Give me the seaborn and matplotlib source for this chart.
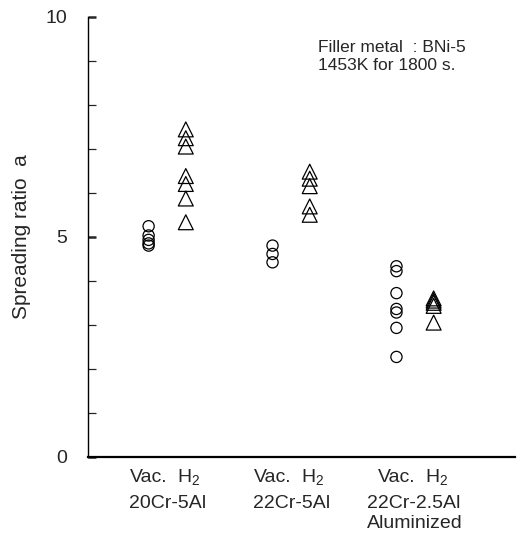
import pandas as pd
import matplotlib.pyplot as plt
import numpy as np
import seaborn as sns
from matplotlib.ticker import MultipleLocator

# wartosci
alloys = ["20Cr-5Al", "22Cr-5Al", "22Cr-2.5Al\nAluminized"]
atmospheres = ["Vac.", "H2"]
vac_20 = [5.24, 5.03, 4.93, 4.85, 4.80]
h2_20 = [7.44, 7.24, 7.05, 6.38, 6.20, 5.87, 5.33]
vac_22 = [4.80, 4.61, 4.42]
h2_22 = [6.48, 6.32, 6.15, 5.69, 5.50]
vac_al = [4.33, 4.22, 3.72, 3.36, 3.28, 2.93, 2.27]
h2_al = [3.60, 3.55, 3.50, 3.43, 3.05]

rows = []
for alloy, vac, h2 in zip(alloys, [vac_20, vac_22, vac_al], [h2_20, h2_22, h2_al]):
    rows += [(alloy, "Vac.", v) for v in vac]
    rows += [(alloy, "H2", v) for v in h2]
df = pd.DataFrame(rows, columns=["alloy", "atm", "ratio"])

group_pos = {a: i + 1 for i, a in enumerate(alloys)}
offset = {"Vac.": -0.15, "H2": 0.15}
df["pos"] = df["alloy"].map(group_pos) + df["atm"].map(offset)

sns.set_style("white")
plt.rcParams["font.family"] = ["Liberation Sans", "DejaVu Sans"]
plt.rcParams["mathtext.default"] = "regular"

fig = plt.figure(figsize=(5.17, 5.40), dpi=100)
ax = fig.add_axes([0.170, 0.154, 0.826, 0.815])

sns.scatterplot(data=df[df["atm"] == "Vac."], x="pos", y="ratio", marker="o",
                s=65, facecolor="none", edgecolor="black", linewidth=0.9, ax=ax)
sns.scatterplot(data=df[df["atm"] == "H2"], x="pos", y="ratio", marker="^",
                s=115, facecolor="none", edgecolor="black", linewidth=0.9, ax=ax)

ax.set_xlim(0.36, 3.806)
ax.set_ylim(0, 10)
ax.set_xticks([])
ax.set_yticks([0, 5, 10])
ax.yaxis.set_minor_locator(MultipleLocator(1))
ax.tick_params(axis="y", which="major", direction="in", length=6, width=1.8,
               labelsize=14, pad=15, left=True)
ax.tick_params(axis="y", which="minor", direction="in", length=6, width=0.9, left=True)
ax.set_xlabel("")
ax.set_ylabel("Spreading ratio  a", fontsize=15)
ax.yaxis.set_label_coords(-0.133, 0.5)

for side in ["top", "right"]:
    ax.spines[side].set_visible(False)
ax.spines["left"].set_linewidth(1.0)
ax.spines["bottom"].set_linewidth(1.6)
for side in ["left", "bottom"]:
    ax.spines[side].set_color("black")

# podpisy grup pod osia
trans = ax.get_xaxis_transform()
for alloy in alloys:
    g = group_pos[alloy]
    ax.text(g + offset["Vac."], -0.058, "Vac.", transform=trans, ha="center",
            va="baseline", fontsize=14)
    ax.text(g + offset["H2"] + 0.02, -0.058, "H$_2$", transform=trans, ha="center",
            va="baseline", fontsize=14)
    ax.text(g, -0.086, alloy, transform=trans, ha="center", va="top",
            multialignment="left", fontsize=14, linespacing=1.25)

ax.text(0.539, 0.931, "Filler metal  : BNi-5", transform=ax.transAxes,
        ha="left", va="center", fontsize=12.5)
ax.text(0.539, 0.890, "1453K for 1800 s.", transform=ax.transAxes,
        ha="left", va="center", fontsize=12.5)

plt.savefig("out.png", dpi=100)
